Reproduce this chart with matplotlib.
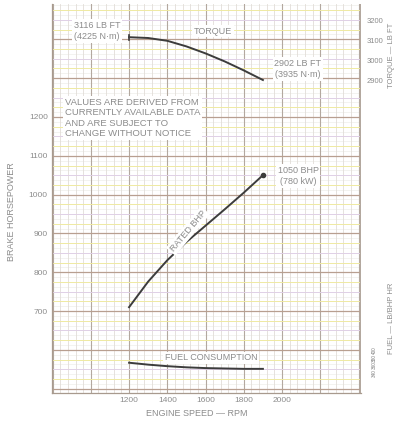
import numpy as np
import matplotlib.pyplot as plt

plt.rcParams['font.family'] = ['Liberation Sans', 'DejaVu Sans']

# ============================
# Data
# ============================

rpm = [1200, 1300, 1400, 1500, 1600, 1700, 1800, 1900]
bhp = [710, 776, 831, 878, 920, 962, 1005, 1050]
torque = [3116, 3112, 3098, 3070, 3035, 2995, 2950, 2902]
fuel = [362, 357, 353, 350, 348, 347, 346, 346]

rpm_ticks = [1200, 1400, 1600, 1800, 2000]
bhp_ticks = [700, 800, 900, 1000, 1100, 1200]
torque_ticks = [2900, 3000, 3100, 3200]
fuel_ticks = [340, 360, 380, 400]

W, H = 395, 421
txt = '#8c8c8c'
curve = '#3c3c3c'

fig = plt.figure(figsize=(W / 100, H / 100), dpi=100)
fig.patch.set_facecolor('white')


def fx(px):
    return px / W


def fy(py):
    return 1 - py / H


ax = fig.add_axes([fx(52), fy(393), 309 / W, 389 / H])
ax.set_xlim(797, 2413)
ax.set_ylim(489, 1491)

# ============================
# Graph paper
# ============================

for x in np.arange(800, 2420, 40):
    if x % 200 == 0:
        ax.axvline(x, color='#b3a89f', lw=0.8, zorder=1)
    else:
        ax.axvline(x, color='#e2ddd8', lw=0.6, zorder=1)

minor_cols = ['#efeaa2', '#e0d0e6', '#efeaa2']
for y in np.arange(500, 1500, 25):
    k = int(round((y % 100) / 25))
    if k == 0:
        ax.axhline(y, color='#b89f90', lw=0.9, zorder=1)
    else:
        ax.axhline(y, color=minor_cols[k - 1], lw=0.7, zorder=1)
for y in np.arange(512.5, 1500, 25):
    ax.axhline(y, color='#efeeea', lw=0.5, zorder=0.9)

for s in ['top', 'right']:
    ax.spines[s].set_visible(False)
for s in ['left', 'bottom']:
    ax.spines[s].set_color('#a89a8e')
    ax.spines[s].set_linewidth(0.9)
ax.axvline(2410, color='#b3a89f', lw=0.8, zorder=1)

ax.set_xticks(rpm_ticks)
ax.set_yticks(bhp_ticks)
ax.set_xticklabels([str(v) for v in rpm_ticks])
ax.set_yticklabels([str(v) for v in bhp_ticks])
ax.tick_params(length=0, labelsize=6, labelcolor=txt, pad=3)

# ============================
# Curves
# ============================

ax.plot(rpm, bhp, color=curve, lw=1.4, zorder=5)
ax.plot(rpm[-1], bhp[-1], 'o', color=curve, ms=3, zorder=5)

ax_t = ax.twinx()
ax_t.set_ylim(1337, 3282)
ax_t.plot(rpm, torque, color=curve, lw=1.4, zorder=5)
ax_t.plot([rpm[0], rpm[0]], [torque[0] - 12, torque[0] + 12], color=curve, lw=1.2)
ax_t.set_yticks(torque_ticks)
ax_t.set_yticklabels([str(v) for v in torque_ticks])
ax_t.tick_params(length=0, labelsize=5.5, labelcolor=txt, pad=4)

ax_f = ax.twinx()
ax_f.set_ylim(283, 1298)
ax_f.plot(rpm, fuel, color=curve, lw=1.4, zorder=5)
ax_f.set_yticks(fuel_ticks)
ax_f.set_yticklabels([str(v) for v in fuel_ticks])
ax_f.tick_params(length=0, labelsize=3.4, labelcolor='#7c7c7c', pad=8,
                 labelrotation=90)

for a in [ax_t, ax_f]:
    for s in a.spines.values():
        s.set_visible(False)

# ============================
# Labels
# ============================

box = dict(facecolor='white', edgecolor='none', pad=1.2)

fig.text(fx(97), fy(31), '3116 LB FT\n(4225 N\u00b7m)', ha='center', va='center',
         fontsize=6.5, color=txt, bbox=box, linespacing=1.4)
fig.text(fx(213), fy(31), 'TORQUE', ha='center', va='center',
         fontsize=6.5, color=txt, bbox=box)
fig.text(fx(298), fy(69), '2902 LB FT\n(3935 N\u00b7m)', ha='center', va='center',
         fontsize=6.5, color=txt, bbox=box, linespacing=1.4)
fig.text(fx(65), fy(118),
         'VALUES ARE DERIVED FROM\nCURRENTLY AVAILABLE DATA\n'
         'AND ARE SUBJECT TO\nCHANGE WITHOUT NOTICE',
         ha='left', va='center', fontsize=6.8, color=txt, bbox=box,
         linespacing=1.2)
fig.text(fx(298), fy(176), '1050 BHP\n(780 kW)', ha='center', va='center',
         fontsize=6.5, color=txt, bbox=box, linespacing=1.4)
fig.text(fx(188), fy(231), 'RATED BHP', ha='center', va='center',
         fontsize=6.5, color=txt, rotation=50, bbox=box)
fig.text(fx(211), fy(358), 'FUEL CONSUMPTION', ha='center', va='center',
         fontsize=6.5, color=txt, bbox=box)
fig.text(fx(197), fy(413), 'ENGINE SPEED \u2014 RPM', ha='center', va='center',
         fontsize=6.5, color=txt)
fig.text(fx(12), fy(212), 'BRAKE HORSEPOWER', ha='center', va='center',
         fontsize=6.5, color=txt, rotation=90)
fig.text(fx(391.5), fy(55), 'TORQUE \u2014 LB FT', ha='center', va='center',
         fontsize=5.5, color=txt, rotation=90)
fig.text(fx(391.5), fy(318), 'FUEL \u2014 LB/BHP HR', ha='center', va='center',
         fontsize=5.5, color=txt, rotation=90)

plt.savefig('out.png', dpi=100)
